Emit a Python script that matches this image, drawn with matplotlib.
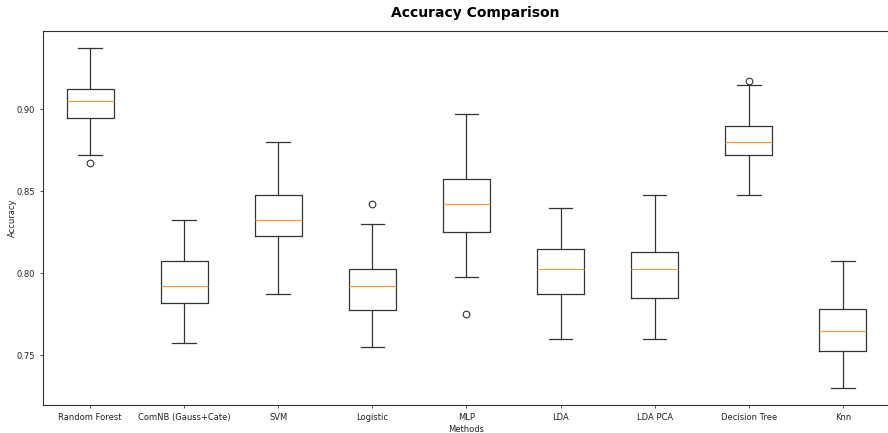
import matplotlib
matplotlib.use('Agg')
import matplotlib.pyplot as plt

# methods compared
methods = ['Random Forest', 'ComNB (Gauss+Cate)', 'SVM', 'Logistic', 'MLP',
           'LDA', 'LDA PCA', 'Decision Tree', 'Knn']

# box statistics
whislo = [0.8725, 0.7575, 0.7875, 0.755, 0.7975, 0.760, 0.760, 0.8475, 0.730]
q1 = [0.895, 0.782, 0.8225, 0.7775, 0.825, 0.7875, 0.785, 0.8725, 0.7525]
med = [0.905, 0.7925, 0.8325, 0.7925, 0.8425, 0.8025, 0.8025, 0.880, 0.765]
q3 = [0.9125, 0.8075, 0.8475, 0.8025, 0.8575, 0.815, 0.8133, 0.890, 0.778]
whishi = [0.9375, 0.8325, 0.880, 0.830, 0.8975, 0.840, 0.8475, 0.915, 0.8075]
fliers = [[0.8675], [], [], [0.8425], [0.775], [], [], [0.9175], []]

stats = []
for i in range(len(methods)):
    stats.append({'label': methods[i], 'whislo': whislo[i], 'q1': q1[i],
                  'med': med[i], 'q3': q3[i], 'whishi': whishi[i],
                  'fliers': fliers[i]})

fig = plt.figure(figsize=(8.88, 4.33), dpi=100)
ax = fig.add_axes([0.0484, 0.0647, 0.9538, 0.8637])

lc = '#333333'
lw = 0.9
ax.bxp(stats,
       boxprops=dict(linewidth=lw, color=lc),
       whiskerprops=dict(linewidth=lw, color=lc),
       capprops=dict(linewidth=lw, color=lc),
       medianprops=dict(linewidth=lw, color='#ff9a45'),
       flierprops=dict(markersize=4.8, markeredgewidth=0.8, markeredgecolor=lc))

for s in ax.spines.values():
    s.set_linewidth(0.8)
    s.set_color(lc)
ax.tick_params(labelsize=6, width=0.6, length=2.5, colors=lc, labelcolor='#222222')
ax.set_title('Accuracy Comparison', fontsize=10, fontweight='bold', pad=10, x=0.5106)
ax.set_xlabel('Methods', fontsize=6, labelpad=2, color='#222222')
ax.set_ylabel('Accuracy', fontsize=6, color='#222222')
ax.yaxis.set_label_coords(-0.0307, 0.5)

fig.savefig('out.png', dpi=100)
